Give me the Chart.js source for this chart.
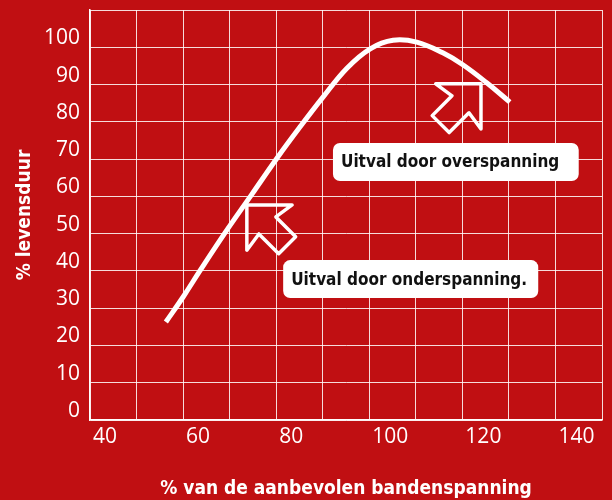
<!DOCTYPE html>
<html>
<head>
<meta charset="utf-8">
<script src="https://cdn.jsdelivr.net/npm/chart.js@4.4.1/dist/chart.umd.min.js"></script>
<style>
  html, body { margin: 0; padding: 0; background: #c00f12; }
  canvas { display: block; }
</style>
</head>
<body>
<canvas id="lifeChart" width="612" height="500"></canvas>
<script>
// tyre life (%) against tyre pressure (% of recommended)
const pressure = [56.3, 60.0, 63.6, 69.0, 74.8, 80.2, 85.1, 90.1, 95.2, 100.2, 105.1, 110.2, 115.8, 120.1, 125.3, 130.2];
const lifetime = [26.3, 33.0, 40.0, 50.2, 60.6, 70.3, 78.6, 86.7, 94.4, 99.6, 101.9, 101.4, 98.5, 95.3, 90.4, 85.3];

const xLabels = [40, 60, 80, 100, 120, 140];
const yLabels = [0, 10, 20, 30, 40, 50, 60, 70, 80, 90, 100];

// callouts, placed in axis units
const noteTexts = ['Uitval door overspanning', 'Uitval door onderspanning.'];
const noteX = [[92.2, 145.0], [81.5, 136.3]];
const noteY = [[74.3, 64.1], [42.9, 32.7]];
const arrowTipX = [73.7, 124.0];
const arrowTipY = [57.7, 90.2];
const arrowAngle = [45, 135];

const WHITE = '#ffffff';
const TITLE_FONT = "'DejaVu Sans Condensed', 'DejaVu Sans', sans-serif";
const TICK_FONT = "'Open Sans', sans-serif";

// hollow block arrow, tip at origin, shaft running along +u
const arrowShape = [[0, 0], [32, 32], [29, 12], [57, 12], [57, -12], [29, -12], [32, -32]];

const notesPlugin = {
  id: 'notes',
  afterDatasetsDraw(chart) {
    const { ctx, scales: { x, y } } = chart;
    ctx.save();

    ctx.strokeStyle = WHITE;
    ctx.lineWidth = 3.5;
    ctx.lineJoin = 'round';
    arrowTipX.forEach((tx, i) => {
      const px = x.getPixelForValue(tx);
      const py = y.getPixelForValue(arrowTipY[i]);
      const a = arrowAngle[i] * Math.PI / 180;
      const dx = Math.cos(a), dy = Math.sin(a);
      ctx.beginPath();
      arrowShape.forEach(([u, v], k) => {
        const sx = px + u * dx + v * dy;
        const sy = py + u * dy - v * dx;
        if (k === 0) ctx.moveTo(sx, sy); else ctx.lineTo(sx, sy);
      });
      ctx.closePath();
      ctx.stroke();
    });

    ctx.font = 'bold 17px ' + TITLE_FONT;
    ctx.textBaseline = 'middle';
    ctx.textAlign = 'left';
    noteTexts.forEach((text, i) => {
      const left = x.getPixelForValue(noteX[i][0]);
      const right = x.getPixelForValue(noteX[i][1]);
      const top = y.getPixelForValue(noteY[i][0]);
      const bottom = y.getPixelForValue(noteY[i][1]);
      ctx.fillStyle = WHITE;
      ctx.beginPath();
      ctx.roundRect(left, top, right - left, bottom - top, 7);
      ctx.fill();
      ctx.fillStyle = '#111111';
      ctx.fillText(text, left + 8, (top + bottom) / 2 + 1);
    });

    ctx.restore();
  }
};

const ctx = document.getElementById('lifeChart').getContext('2d');
const lifeChart = new Chart(ctx, {
  type: 'line',
  data: {
    datasets: [{
      data: pressure.map((p, i) => ({ x: p, y: lifetime[i] })),
      borderColor: WHITE,
      borderWidth: 5,
      borderCapStyle: 'butt',
      pointRadius: 0,
      fill: false,
      tension: 0.4
    }]
  },
  options: {
    responsive: false,
    animation: false,
    layout: { padding: { top: 10, right: 10, left: 0, bottom: 0 } },
    plugins: {
      legend: { display: false },
      tooltip: { enabled: false }
    },
    scales: {
      x: {
        type: 'linear',
        min: 40,
        max: 150,
        afterFit(scale) {
          scale.height = 80;
          scale.paddingLeft = 0;
          scale.paddingRight = 0;
        },
        grid: { color: 'rgba(255,255,255,0.85)', lineWidth: 1, drawTicks: false },
        border: { color: WHITE, width: 1.5 },
        ticks: {
          stepSize: 10,
          autoSkip: false,
          maxRotation: 0,
          align: 'start',
          labelOffset: 3,
          padding: 4,
          color: WHITE,
          font: { family: TICK_FONT, size: 21 },
          callback: v => xLabels.includes(v) ? String(v) : ''
        },
        title: {
          display: true,
          text: '% van de aanbevolen bandenspanning',
          color: WHITE,
          font: { family: TITLE_FONT, size: 19, weight: 'bold' },
          padding: { top: 0, bottom: 0 }
        }
      },
      y: {
        min: 0,
        max: 110,
        afterFit(scale) {
          scale.width = 90;
          scale.paddingTop = 0;
          scale.paddingBottom = 0;
        },
        grid: { color: 'rgba(255,255,255,0.85)', lineWidth: 1, drawTicks: false },
        border: { color: WHITE, width: 1.5 },
        ticks: {
          stepSize: 10,
          autoSkip: false,
          labelOffset: -9,
          padding: 10,
          color: WHITE,
          font: { family: TICK_FONT, size: 21 },
          callback: v => yLabels.includes(v) ? String(v) : ''
        },
        title: {
          display: true,
          text: '% levensduur',
          color: WHITE,
          font: { family: TITLE_FONT, size: 19, weight: 'bold' },
          padding: { top: 14, bottom: 0 }
        }
      }
    }
  },
  plugins: [notesPlugin]
});
</script>
</body>
</html>
